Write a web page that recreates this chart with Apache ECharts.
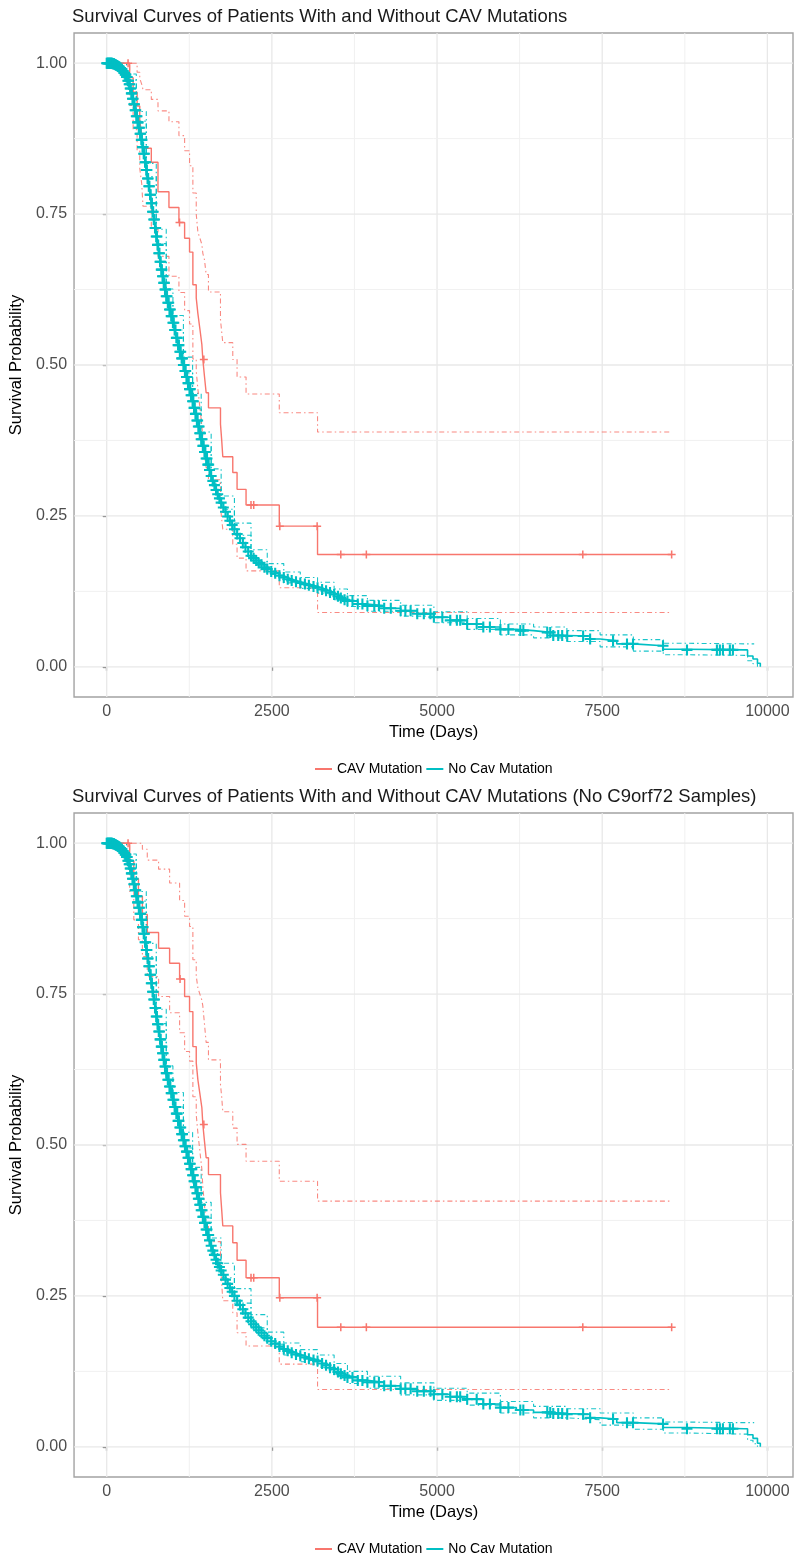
<!DOCTYPE html>
<html><head><meta charset="utf-8">
<script src="https://cdn.jsdelivr.net/npm/echarts@6/dist/echarts.min.js"></script>
<style>html,body{margin:0;padding:0;background:#fff}#c{width:799px;height:1559px}</style>
</head><body><div id="c"></div>
<script>
// ---------- labels ----------
const panelTitles = [
  'Survival Curves of Patients With and Without CAV Mutations',
  'Survival Curves of Patients With and Without CAV Mutations (No C9orf72 Samples)'
];
const xAxisTitle = 'Time (Days)';
const yAxisTitle = 'Survival Probability';
const legendNames = ['CAV Mutation', 'No Cav Mutation'];
const xTicks = [0, 2500, 5000, 7500, 10000];
const xMinor = [1250, 3750, 6250, 8750];
const yTicks = [0, 0.25, 0.5, 0.75, 1];
const yMinor = [0.125, 0.375, 0.625, 0.875];
const xRange = [-494.6, 10387.7];
const yRange = [-0.05, 1.05];

// ---------- panel 1: CAV mutation (red) ----------
const redTime1  = [0,347,400,460,500,530,549,675,776,942,1093,1179,1254,1304,1355,1380,1410,1440,1455,1480,1505,1540,1722,1740,1757,1908,1973,2109,2612,3191,8551];
const redSurv1  = [1,0.976,0.952,0.929,0.905,0.881,0.859,0.836,0.787,0.761,0.736,0.710,0.687,0.633,0.611,0.585,0.560,0.534,0.509,0.481,0.454,0.429,0.402,0.376,0.348,0.322,0.294,0.268,0.233,0.186,0.186];
const redUpper1 = [1,1,1,0.985,0.975,0.965,0.956,0.94,0.921,0.903,0.88,0.855,0.83,0.785,0.75,0.72,0.71,0.70,0.685,0.674,0.65,0.621,0.575,0.555,0.537,0.509,0.480,0.452,0.421,0.389,0.389];
const redLower1 = [1,0.93,0.89,0.855,0.826,0.80,0.763,0.73,0.68,0.647,0.62,0.59,0.568,0.51,0.49,0.46,0.43,0.40,0.38,0.35,0.33,0.31,0.266,0.245,0.228,0.203,0.18,0.159,0.131,0.090,0.090];
const redCensor1 = [323,1102,1470,2184,2225,2620,3185,3543,3930,7206,8551];

// ---------- panel 2: CAV mutation (red) ----------
const redTime2  = [0,347,410,480,540,614,785,952,1103,1179,1254,1304,1355,1380,1410,1440,1455,1480,1505,1540,1722,1740,1757,1908,1973,2109,2612,3191,8551];
const redSurv2  = [1,0.971,0.941,0.912,0.882,0.852,0.826,0.801,0.775,0.746,0.721,0.663,0.636,0.608,0.585,0.562,0.534,0.506,0.479,0.451,0.421,0.393,0.366,0.338,0.309,0.280,0.247,0.198,0.198];
const redUpper2 = [1,1,1,1,0.99,0.972,0.957,0.934,0.905,0.879,0.862,0.807,0.78,0.76,0.75,0.74,0.73,0.70,0.67,0.641,0.60,0.58,0.555,0.528,0.501,0.473,0.440,0.407,0.407];
const redLower2 = [1,0.92,0.873,0.84,0.812,0.779,0.746,0.719,0.686,0.655,0.639,0.58,0.55,0.52,0.49,0.46,0.43,0.40,0.37,0.34,0.30,0.272,0.242,0.222,0.189,0.167,0.137,0.095,0.095];
const redCensor2 = [323,1110,1470,2184,2225,2620,3185,3543,3930,7206,8551];

// ---------- No Cav mutation (cyan): [time, survival] ----------
const cyanCurve1 = [[0,1],[15,1],[30,1],[45,1],[60,1],[75,1],[90,0.999],[105,0.999],[120,0.998],[135,0.997],[150,0.996],[165,0.995],[180,0.994],[200,0.992],[220,0.990],[240,0.987],[260,0.984],[280,0.981],[300,0.977],[320,0.971],[340,0.965],[356,0.958],[373,0.950],[390,0.941],[410,0.932],[430,0.922],[448,0.912],[467,0.902],[486,0.893],[505,0.883],[524,0.873],[542,0.861],[560,0.850],[580,0.836],[599,0.823],[618,0.809],[637,0.796],[656,0.782],[675,0.768],[694,0.754],[712,0.741],[731,0.727],[750,0.713],[769,0.699],[788,0.685],[807,0.671],[826,0.658],[845,0.647],[863,0.636],[882,0.625],[901,0.614],[925,0.603],[950,0.592],[976,0.581],[1002,0.570],[1028,0.558],[1054,0.545],[1080,0.533],[1107,0.522],[1134,0.511],[1161,0.500],[1184,0.490],[1207,0.480],[1230,0.470],[1253,0.460],[1277,0.450],[1300,0.440],[1322,0.429],[1343,0.419],[1365,0.408],[1387,0.398],[1408,0.387],[1430,0.377],[1455,0.366],[1480,0.356],[1505,0.345],[1530,0.335],[1556,0.326],[1581,0.316],[1606,0.308],[1630,0.301],[1655,0.293],[1680,0.286],[1706,0.279],[1732,0.272],[1765,0.264],[1798,0.257],[1830,0.249],[1864,0.242],[1899,0.235],[1933,0.228],[1975,0.220],[2017,0.213],[2060,0.205],[2100,0.198],[2142,0.191],[2184,0.184],[2223,0.180],[2262,0.176],[2300,0.172],[2343,0.169],[2387,0.165],[2430,0.162],[2490,0.158],[2550,0.155],[2615,0.151],[2680,0.148],[2740,0.145],[2800,0.143],[2865,0.141],[2930,0.139],[3000,0.137],[3060,0.135],[3130,0.133],[3191,0.131],[3260,0.128],[3320,0.126],[3380,0.123],[3442,0.120],[3500,0.117],[3544,0.114],[3600,0.111],[3644,0.109],[3800,0.104],[3946,0.101],[4200,0.097],[4449,0.093],[4700,0.088],[4952,0.082],[5200,0.077],[5456,0.071],[5700,0.066],[5959,0.062],[6200,0.060],[6461,0.057],[6714,0.052],[6965,0.051],[7317,0.046],[7468,0.043],[7720,0.038],[7971,0.035],[8424,0.029],[8777,0.028],[9657,0.028],[9700,0.018],[9782,0.013],[9850,0.006],[9893,0]];
const cyanCurve2 = [[0,1],[15,1],[30,1],[45,1],[60,1],[75,1],[90,0.999],[105,0.999],[120,0.998],[135,0.997],[150,0.996],[165,0.995],[180,0.994],[200,0.992],[220,0.990],[240,0.987],[260,0.984],[280,0.981],[300,0.977],[320,0.971],[340,0.965],[356,0.958],[373,0.950],[390,0.941],[410,0.932],[430,0.922],[448,0.912],[467,0.902],[486,0.893],[505,0.883],[524,0.873],[542,0.861],[560,0.850],[580,0.836],[599,0.823],[618,0.809],[637,0.796],[656,0.782],[675,0.768],[694,0.754],[712,0.741],[731,0.727],[750,0.713],[769,0.700],[788,0.688],[807,0.675],[826,0.663],[845,0.652],[863,0.641],[882,0.630],[901,0.619],[925,0.608],[950,0.597],[976,0.586],[1002,0.575],[1028,0.563],[1054,0.552],[1080,0.540],[1107,0.529],[1134,0.518],[1161,0.508],[1184,0.498],[1207,0.489],[1230,0.479],[1253,0.469],[1277,0.460],[1300,0.450],[1322,0.440],[1343,0.430],[1365,0.420],[1387,0.411],[1408,0.401],[1430,0.392],[1455,0.381],[1480,0.371],[1505,0.360],[1530,0.351],[1556,0.342],[1581,0.333],[1606,0.325],[1630,0.318],[1655,0.310],[1680,0.304],[1706,0.298],[1732,0.292],[1765,0.285],[1798,0.277],[1830,0.270],[1864,0.263],[1899,0.257],[1933,0.250],[1975,0.242],[2017,0.235],[2060,0.228],[2100,0.221],[2142,0.214],[2184,0.208],[2223,0.203],[2262,0.198],[2300,0.193],[2343,0.189],[2387,0.184],[2430,0.180],[2490,0.175],[2550,0.171],[2615,0.166],[2680,0.162],[2740,0.159],[2800,0.156],[2865,0.153],[2930,0.151],[3000,0.148],[3060,0.146],[3130,0.144],[3191,0.142],[3260,0.138],[3320,0.135],[3380,0.131],[3442,0.128],[3500,0.124],[3544,0.121],[3600,0.118],[3644,0.115],[3800,0.110],[3946,0.107],[4200,0.101],[4449,0.096],[4700,0.092],[4952,0.087],[5200,0.083],[5456,0.079],[5700,0.071],[5959,0.065],[6200,0.061],[6461,0.057],[6714,0.055],[6965,0.054],[7317,0.048],[7468,0.046],[7720,0.040],[7971,0.038],[8424,0.032],[8777,0.030],[9657,0.030],[9700,0.020],[9782,0.014],[9850,0.006],[9893,0]];
const cyanLower1 = [[0,1],[300,0.972],[448,0.904],[599,0.812],[750,0.701],[901,0.602],[1002,0.558],[1161,0.487],[1300,0.427],[1430,0.365],[1581,0.304],[1732,0.261],[1933,0.218],[2184,0.174],[2430,0.153],[2680,0.139],[2930,0.130],[3191,0.122],[3442,0.111],[3644,0.100],[3946,0.092],[4449,0.084],[4952,0.073],[5456,0.062],[5959,0.053],[6461,0.048],[6965,0.042],[7468,0.033],[7971,0.026],[8424,0.020],[8777,0.019],[9657,0.019],[9700,0.010],[9782,0.005],[9850,0]];
const cyanUpper1 = [[0,1],[300,0.982],[448,0.920],[599,0.834],[750,0.725],[901,0.626],[1002,0.582],[1161,0.513],[1300,0.453],[1430,0.389],[1581,0.328],[1732,0.283],[1933,0.238],[2184,0.194],[2430,0.171],[2680,0.157],[2930,0.148],[3191,0.140],[3442,0.129],[3644,0.118],[3946,0.110],[4449,0.102],[4952,0.091],[5456,0.080],[5959,0.071],[6461,0.066],[6965,0.060],[7468,0.053],[7971,0.045],[8424,0.039],[8777,0.038],[9657,0.038],[9800,0.038]];
const cyanLower2 = [[0,1],[300,0.972],[448,0.904],[599,0.812],[750,0.701],[901,0.607],[1002,0.563],[1161,0.495],[1300,0.437],[1430,0.379],[1581,0.320],[1732,0.280],[1933,0.238],[2184,0.197],[2430,0.170],[2680,0.152],[2930,0.141],[3191,0.132],[3442,0.118],[3644,0.105],[3946,0.097],[4449,0.086],[4952,0.077],[5456,0.069],[5959,0.056],[6461,0.048],[6965,0.045],[7468,0.036],[7971,0.029],[8424,0.023],[8777,0.021],[9657,0.021],[9700,0.011],[9782,0.005],[9850,0]];
const cyanUpper2 = [[0,1],[300,0.982],[448,0.920],[599,0.834],[750,0.725],[901,0.631],[1002,0.587],[1161,0.521],[1300,0.463],[1430,0.405],[1581,0.346],[1732,0.304],[1933,0.262],[2184,0.219],[2430,0.190],[2680,0.172],[2930,0.161],[3191,0.152],[3442,0.138],[3644,0.125],[3946,0.117],[4449,0.106],[4952,0.097],[5456,0.089],[5959,0.075],[6461,0.067],[6965,0.063],[7468,0.056],[7971,0.048],[8424,0.041],[8777,0.040],[9657,0.040],[9800,0.040]];
const cyanCensor = [0,8,15,22,30,38,45,52,60,68,75,82,90,98,105,112,120,128,135,142,150,158,165,172,180,190,200,210,220,230,240,250,260,270,280,290,300,310,320,330,340,348,356,364,373,381,390,400,410,420,430,439,448,458,467,476,486,495,505,514,524,533,542,551,560,570,580,590,599,608,618,627,637,646,656,665,675,684,694,703,712,722,731,741,750,760,769,779,788,798,807,817,826,835,845,854,863,872,882,891,901,913,925,938,950,963,976,989,1002,1015,1028,1041,1054,1067,1080,1093,1107,1120,1134,1147,1161,1172,1184,1195,1207,1218,1230,1241,1253,1265,1277,1288,1300,1311,1322,1333,1343,1354,1365,1376,1387,1398,1408,1419,1430,1443,1455,1468,1480,1493,1505,1518,1530,1543,1556,1581,1606,1630,1655,1680,1706,1732,1765,1798,1830,1864,1899,1933,1975,2017,2060,2100,2142,2184,2223,2262,2300,2343,2387,2430,2490,2550,2615,2680,2740,2800,2865,2930,3000,3060,3130,3191,3260,3320,3380,3442,3500,3544,3600,3644,3720,3800,3870,3946,4050,4120,4200,4300,4449,4520,4600,4700,4800,4900,4952,5080,5200,5300,5350,5456,5600,5700,5800,5959,6080,6260,6306,6668,6713,6759,6834,6894,6970,7211,7317,7664,7875,7966,8420,8783,9236,9281,9327,9432,9478];

// ---------- styling ----------
const RED = '#F8766D', CYAN = '#00BFC4';
const FONT = "'Liberation Sans', Arial, Helvetica, sans-serif";
const PLUS = 'path://M4.05,0h1.9v4.05h4.05v1.9h-4.05v4.05h-1.9v-4.05h-4.05v-1.9h4.05z';
const DASHDOT = [5, 3, 1.5, 3];
const panelTop = [33, 813];
const plotH = 664;

function pairs(t, s) { return t.map((v, i) => [v, s[i]]); }
function survAt(curve, x) { let v = curve[0][1]; for (let i = 0; i < curve.length; i++) { if (curve[i][0] <= x) v = curve[i][1]; else break; } return v; }

const grids = panelTop.map(top => ({
  left: 72.5, top: top, width: 720.5, height: plotH,
  show: true, backgroundColor: '#fff', borderColor: '#a3a3a3', borderWidth: 1.4
}));

const xAxes = panelTop.map((_, i) => ({
  type: 'value', gridIndex: i, min: xRange[0], max: xRange[1],
  splitLine: { show: false }, axisLine: { show: false },
  axisTick: { show: true, length: 4, customValues: xTicks, lineStyle: { color: '#444', width: 1.2 } },
  axisLabel: { customValues: xTicks, margin: 7, fontSize: 16, color: '#4d4d4d', fontFamily: FONT,
               formatter: v => String(v) },
  name: xAxisTitle, nameLocation: 'middle', nameGap: 27,
  nameTextStyle: { fontSize: 16.5, color: '#000', fontFamily: FONT }
}));
const yAxes = panelTop.map((_, i) => ({
  type: 'value', gridIndex: i, min: yRange[0], max: yRange[1],
  splitLine: { show: false }, axisLine: { show: false },
  axisTick: { show: true, length: 4, customValues: yTicks, lineStyle: { color: '#444', width: 1.2 } },
  axisLabel: { customValues: yTicks, margin: 7, fontSize: 16, color: '#4d4d4d', fontFamily: FONT,
               formatter: v => v.toFixed(2) },
  name: yAxisTitle, nameLocation: 'middle', nameGap: 41,
  nameTextStyle: { fontSize: 16.5, color: '#000', fontFamily: FONT }
}));

function gridSeries(i) {
  const data = [];
  xTicks.forEach(v => data.push([v, 0]));
  xMinor.forEach(v => data.push([v, 1]));
  yTicks.forEach(v => data.push([v, 2]));
  yMinor.forEach(v => data.push([v, 3]));
  return {
    type: 'custom', xAxisIndex: i, yAxisIndex: i, z: 1, silent: true, clip: false,
    data: data,
    encode: { x: -1, y: -1 },
    renderItem: (params, api) => {
      const v = api.value(0), k = api.value(1);
      let a, b;
      if (k < 2) { a = api.coord([v, yRange[0]]); b = api.coord([v, yRange[1]]); }
      else { a = api.coord([xRange[0], v]); b = api.coord([xRange[1], v]); }
      const major = (k === 0 || k === 2);
      return { type: 'line', shape: { x1: a[0], y1: a[1], x2: b[0], y2: b[1] },
               style: { stroke: major ? '#e8e8e8' : '#f1f1f1', lineWidth: major ? 1.3 : 1 } };
    }
  };
}

function stepLine(i, name, data, color, width, type, opacity, z) {
  return { type: 'line', name: name, xAxisIndex: i, yAxisIndex: i, data: data, step: 'end',
    showSymbol: false, symbol: 'none', z: z, silent: true,
    lineStyle: { color: color, width: width, type: type, opacity: opacity },
    itemStyle: { color: color } };
}
function censorSeries(i, name, times, curve, color, size, z) {
  return { type: 'scatter', name: name, xAxisIndex: i, yAxisIndex: i, z: z, silent: true,
    symbol: PLUS, symbolSize: size,
    data: times.map(x => [x, survAt(curve, x)]),
    itemStyle: { color: color, opacity: 1 } };
}

const panels = [
  { rt: redTime1, rs: redSurv1, ru: redUpper1, rl: redLower1, rc: redCensor1, cc: cyanCurve1, cu: cyanUpper1, cl: cyanLower1 },
  { rt: redTime2, rs: redSurv2, ru: redUpper2, rl: redLower2, rc: redCensor2, cc: cyanCurve2, cu: cyanUpper2, cl: cyanLower2 }
];

const series = [];
panels.forEach((p, i) => {
  const redCurve = pairs(p.rt, p.rs);
  series.push(gridSeries(i));
  series.push(stepLine(i, legendNames[1], p.cc, CYAN, 1.6, 'solid', 1, 3));
  series.push(stepLine(i, legendNames[0], redCurve, RED, 1.4, 'solid', 1, 3));
  series.push(stepLine(i, 'cyan upper', p.cu, CYAN, 1.1, DASHDOT, 0.9, 3));
  series.push(stepLine(i, 'cyan lower', p.cl, CYAN, 1.1, DASHDOT, 0.9, 3));
  series.push(stepLine(i, 'red upper', pairs(p.rt, p.ru), RED, 1.1, DASHDOT, 0.85, 3));
  series.push(stepLine(i, 'red lower', pairs(p.rt, p.rl), RED, 1.1, DASHDOT, 0.85, 3));
  series.push(censorSeries(i, 'red censor', p.rc, redCurve, RED, 8, 4));
  series.push(censorSeries(i, 'cyan censor', cyanCensor, p.cc, CYAN, 11, 5));
});

const option = {
  animation: false,
  backgroundColor: '#fff',
  title: panelTitles.map((t, i) => ({
    text: t, left: 72, top: panelTop[i] - 26, padding: 0,
    textStyle: { fontSize: 18.5, fontWeight: 'normal', color: '#1a1a1a', fontFamily: FONT }
  })),
  legend: panelTop.map((top, i) => ({
    data: legendNames, top: top + plotH + 65, left: 315, padding: 0,
    icon: 'rect', itemWidth: 17, itemHeight: 2, itemGap: 4, selectedMode: false,
    textStyle: { fontSize: 14, color: '#000', fontFamily: FONT }
  })),
  grid: grids,
  xAxis: xAxes,
  yAxis: yAxes,
  series: series
};

const chart = echarts.init(document.getElementById('c'), null, { renderer: 'canvas' });
chart.setOption(option);
</script>
</body></html>
